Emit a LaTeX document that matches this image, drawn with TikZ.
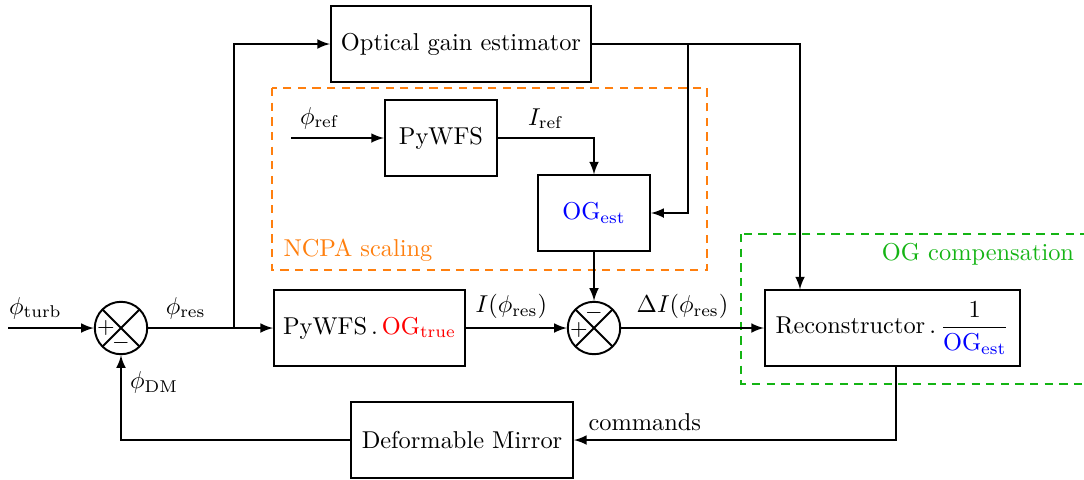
\documentclass[tikz,border=0pt]{standalone}
\usepackage{amsmath}
\tikzset{>=latex}
\definecolor{ncpaorange}{RGB}{255,127,14}
\definecolor{ogcgreen}{RGB}{20,180,20}

\tikzset{
    block/.style={draw, thick, minimum height=30.8pt, align=center},
    sumnode/.style={draw, thick, circle, minimum size=21.5pt, inner sep=0pt,
        path picture={\draw[thick] (path picture bounding box.north west) -- (path picture bounding box.south east)
            (path picture bounding box.north east) -- (path picture bounding box.south west);}},
    wire/.style={thick, ->},
    group/.style={thick, dash pattern=on 3.4pt off 2.6pt},
}

\begin{document}
\begin{tikzpicture}[x=0.41pt, y=-0.41pt]
    \useasboundingbox (0,0) rectangle (1084,479);

    % dashed groups
    \draw[group, ncpaorange] (272,88) rectangle (707,270);
    \node[ncpaorange] (ncpalbl) at (358,250) {NCPA scaling};
    \draw[group, ogcgreen] (741,234) rectangle (1094,384);
    \node[ogcgreen] (ogclbl) at (978,254) {OG compensation};

    % blocks
    \node[block, minimum width=106.6pt] (oge) at (461,44) {Optical gain estimator};
    \node[block, minimum width=46pt] (pywfs) at (441,138) {PyWFS};
    \node[block, minimum width=46pt] (ogest) at (594,213) {\color{blue}OG$_{\mathrm{est}}$};
    \node[block, minimum width=78.3pt] (pywfsog) at (369.5,328) {PyWFS$\,.\,${\color{red}OG$_{\mathrm{true}}$}};
    \node[block, minimum width=104.6pt] (recon) at (892.5,328) {Reconstructor$\,.\,\dfrac{1}{\textcolor{blue}{\mathrm{OG}_{\mathrm{est}}}}$};
    \node[block, minimum width=91pt] (dm) at (462,440) {Deformable Mirror};

    % summing points
    \node[sumnode] (sum1) at (121,328) {};
    \node[font=\small] (sum1p) at (106,328) {$+$};
    \node[font=\small] (sum1m) at (121,343) {$-$};
    \node[sumnode] (sum2) at (594,328) {};
    \node[font=\small] (sum2p) at (579,330) {$+$};
    \node[font=\small] (sum2m) at (594,313) {$-$};

    % helper points
    \coordinate (turbin) at (8,328);
    \coordinate (split) at (234,328);
    \coordinate (ogsplit) at (688,44);
    \coordinate (ogturn) at (800,44);
    \coordinate (refin) at (291,138);
    \coordinate (cmdturn) at (896,440);

    % signals
    \draw[wire] (turbin) -- node[above, pos=0.32]{$\phi_{\mathrm{turb}}$} (sum1);
    \draw[wire] (sum1) -- node[above, pos=0.3]{$\phi_{\mathrm{res}}$} (pywfsog);
    \draw[wire] (split) |- (oge);
    \draw[wire] (pywfsog) -- node[above, pos=0.45]{$I(\phi_{\mathrm{res}})$} (sum2);
    \draw[wire] (sum2) -- node[above, pos=0.43]{$\Delta I(\phi_{\mathrm{res}})$} (recon);
    \draw[wire] (oge) -- (ogturn) -- (ogturn |- recon.north);
    \draw[wire] (ogsplit) |- (ogest);
    \draw[wire] (refin) -- node[above, pos=0.31]{$\phi_{\mathrm{ref}}$} (pywfs);
    \draw[wire] (pywfs) -| node[above, pos=0.25]{$I_{\mathrm{ref}}$} (ogest);
    \draw[wire] (ogest) -- (sum2);
    \draw[wire] (cmdturn |- recon.south) -- (cmdturn) -- node[above, pos=0.78]{commands} (dm);
    \draw[wire] (dm) -| node[right, pos=0.84]{$\phi_{\mathrm{DM}}$} (sum1);
\end{tikzpicture}
\end{document}
